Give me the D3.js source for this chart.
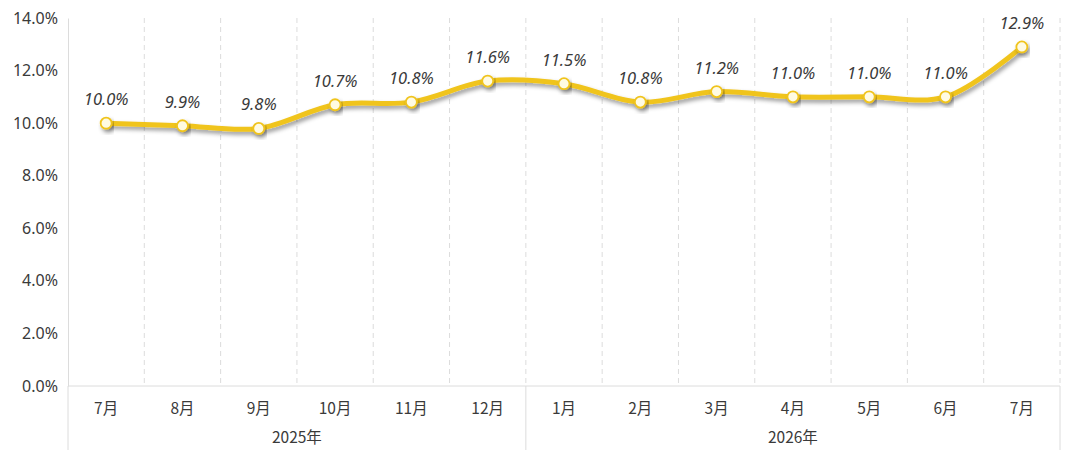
<!DOCTYPE html>
<html>
<head>
<meta charset="utf-8">
<script src="https://cdn.jsdelivr.net/npm/d3@7"></script>
<style>
  body { margin: 0; background: #fff; }
  text { font-family: "Noto Sans CJK SC", "Noto Sans", sans-serif; }
</style>
</head>
<body>
<div id="chart"></div>
<script>
const months = ["7月", "8月", "9月", "10月", "11月", "12月", "1月", "2月", "3月", "4月", "5月", "6月", "7月"];
const years = ["2025年", "2026年"];
const yearSpans = [6, 7];
const values = [10.0, 9.9, 9.8, 10.7, 10.8, 11.6, 11.5, 10.8, 11.2, 11.0, 11.0, 11.0, 12.9];
const yTicks = [0, 2, 4, 6, 8, 10, 12, 14];

const margin = { top: 18, right: 20, bottom: 74, left: 68 },
    width = 1080 - margin.left - margin.right,
    height = 460 - margin.top - margin.bottom;

const svg = d3.select("#chart")
    .append("svg")
    .attr("width", 1080)
    .attr("height", 460);

const defs = svg.append("defs");
const f = defs.append("filter").attr("id", "shadow")
    .attr("x", "-20%").attr("y", "-50%").attr("width", "140%").attr("height", "200%");
f.append("feDropShadow")
    .attr("dx", 2).attr("dy", 3).attr("stdDeviation", 2)
    .attr("flood-color", "#000").attr("flood-opacity", 0.4);

const g = svg.append("g")
    .attr("transform", `translate(${margin.left},${margin.top})`);

const x = d3.scaleBand()
    .domain(d3.range(months.length))
    .range([0, width]);

const y = d3.scaleLinear()
    .domain([0, 14])
    .range([height, 0]);

// vertical dashed separators
g.append("g")
    .selectAll("line")
    .data(d3.range(1, months.length + 1))
    .join("line")
    .attr("x1", d => d * x.bandwidth())
    .attr("x2", d => d * x.bandwidth())
    .attr("y1", 0)
    .attr("y2", height)
    .attr("stroke", "#dcdcdc")
    .attr("stroke-dasharray", "5,4");

// y axis
const yAxis = d3.axisLeft(y)
    .tickValues(yTicks)
    .tickSize(0)
    .tickPadding(10)
    .tickFormat(d => d.toFixed(1) + "%");

g.append("g")
    .attr("class", "y-axis")
    .call(yAxis)
    .call(a => a.select(".domain").attr("stroke", "#dcdcdc"))
    .call(a => a.selectAll("text")
        .attr("font-size", 16)
        .attr("fill", "#3a3a3a")
        .style("font-family", "'Noto Sans', sans-serif"));

// x axis line
g.append("line")
    .attr("x1", 0).attr("x2", width)
    .attr("y1", height).attr("y2", height)
    .attr("stroke", "#dcdcdc");

// month labels
g.append("g")
    .selectAll("text")
    .data(months)
    .join("text")
    .attr("x", (d, i) => x(i) + x.bandwidth() / 2)
    .attr("y", height + 28)
    .attr("text-anchor", "middle")
    .attr("font-size", 15.5)
    .attr("fill", "#3a3a3a")
    .text(d => d);

// year groups
const starts = [0, yearSpans[0]];
g.append("g")
    .selectAll("line")
    .data([0, yearSpans[0], months.length])
    .join("line")
    .attr("x1", d => d * x.bandwidth())
    .attr("x2", d => d * x.bandwidth())
    .attr("y1", height)
    .attr("y2", height + 64)
    .attr("stroke", "#dcdcdc");

g.append("g")
    .selectAll("text")
    .data(years)
    .join("text")
    .attr("x", (d, i) => (starts[i] + yearSpans[i] / 2) * x.bandwidth())
    .attr("y", height + 57)
    .attr("text-anchor", "middle")
    .attr("font-size", 15.5)
    .attr("fill", "#3a3a3a")
    .text(d => d);

// line
const line = d3.line()
    .x((d, i) => x(i) + x.bandwidth() / 2)
    .y(d => y(d))
    .curve(d3.curveCatmullRom.alpha(0.5));

g.append("path")
    .datum(values)
    .attr("d", line)
    .attr("fill", "none")
    .attr("stroke", "#f0c41e")
    .attr("stroke-width", 5)
    .attr("stroke-linecap", "round")
    .attr("filter", "url(#shadow)");

g.append("g")
    .selectAll("circle")
    .data(values)
    .join("circle")
    .attr("cx", (d, i) => x(i) + x.bandwidth() / 2)
    .attr("cy", d => y(d))
    .attr("r", 5.5)
    .attr("fill", "#fffbe3")
    .attr("stroke", "#f0c41e")
    .attr("stroke-width", 1.8)
    .attr("filter", "url(#shadow)");

g.append("g")
    .selectAll("text")
    .data(values)
    .join("text")
    .attr("x", (d, i) => x(i) + x.bandwidth() / 2)
    .attr("y", d => y(d) - 18)
    .attr("text-anchor", "middle")
    .attr("font-size", 16.5)
    .attr("font-style", "italic")
    .attr("fill", "#3a3a3a")
    .style("font-family", "'Noto Sans', sans-serif")
    .text(d => d.toFixed(1) + "%");
</script>
</body>
</html>
